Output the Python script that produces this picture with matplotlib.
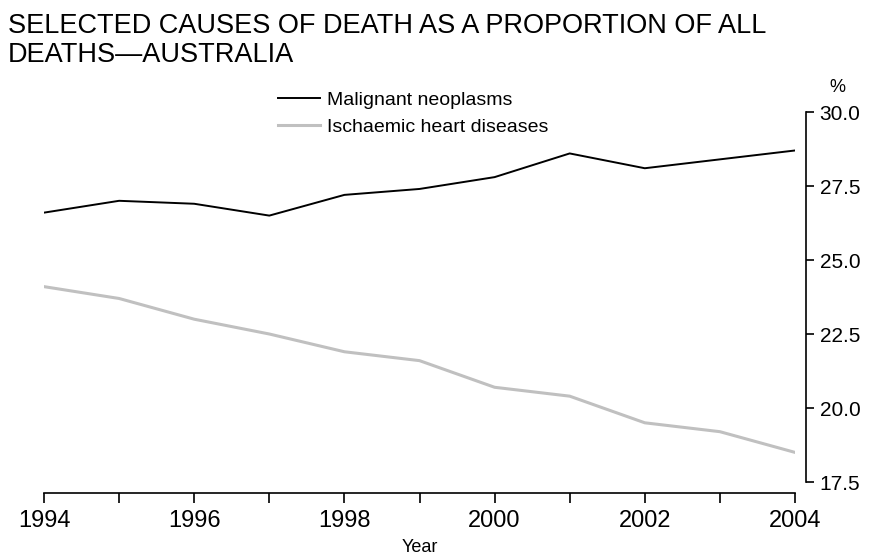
import matplotlib
matplotlib.use("Agg")
import matplotlib.pyplot as plt
from matplotlib.ticker import MultipleLocator, FixedLocator

years = [1994, 1995, 1996, 1997, 1998, 1999, 2000, 2001, 2002, 2003, 2004]
malignant = [26.6, 27.0, 26.9, 26.5, 27.2, 27.4, 27.8, 28.6, 28.1, 28.4, 28.7]
ischaemic = [24.1, 23.7, 23.0, 22.5, 21.9, 21.6, 20.7, 20.4, 19.5, 19.2, 18.5]
series_names = ["Malignant neoplasms", "Ischaemic heart diseases"]
y_ticks = [17.5, 20.0, 22.5, 25.0, 27.5, 30.0]
x_major = [1994, 1996, 1998, 2000, 2002, 2004]

plt.rcParams['font.family'] = ['Liberation Sans', 'DejaVu Sans']

W, H = 870, 558
PX = 72 / 100  # points per pixel
fig = plt.figure(figsize=(W/100, H/100), dpi=100)
ax = fig.add_axes([44/W, 1-482/H, (795-44)/W, (482-112)/H])

ax.plot(years, malignant, color='black', lw=1.4, label=series_names[0])
ax.plot(years, ischaemic, color='#c0c0c0', lw=2.2, label=series_names[1])

ax.set_xlim(1994, 2004)
ax.set_ylim(17.5, 30.0)

for s in ['top', 'left']:
    ax.spines[s].set_visible(False)
ax.spines['bottom'].set_position(('outward', 11 * PX))
ax.spines['right'].set_position(('outward', 11 * PX))
ax.spines['right'].set_linewidth(1.2)
ax.spines['bottom'].set_linewidth(1.2)

ax.yaxis.tick_right()
ax.yaxis.set_major_locator(FixedLocator(y_ticks))
ax.set_yticklabels([f"{v:.1f}" for v in y_ticks])
ax.tick_params(axis='y', direction='out', length=8 * PX, width=1.2, labelsize=15, pad=4)

ax.xaxis.set_major_locator(FixedLocator(x_major))
ax.xaxis.set_minor_locator(MultipleLocator(1))
ax.tick_params(axis='x', which='both', direction='out', length=10 * PX, width=1.2, labelsize=17, pad=5)
ax.set_xlabel("Year", fontsize=13, labelpad=5)

fig.text(837/W, 1-88/H, "%", fontsize=13, ha='center', va='center')

fig.text(8/W, 1-33/H, "SELECTED CAUSES OF DEATH AS A PROPORTION OF ALL",
         fontsize=19.5, ha='left', va='baseline')
fig.text(8/W, 1-62/H, "DEATHS\u2014AUSTRALIA",
         fontsize=19.5, ha='left', va='baseline')

leg = ax.legend(loc='upper left', bbox_to_anchor=(278/W, 1-91/H), bbox_transform=fig.transFigure,
                frameon=False, fontsize=14, handlelength=2.15, handletextpad=0.35,
                labelspacing=0.5, borderpad=0, borderaxespad=0)

fig.savefig("out.png", dpi=100)
